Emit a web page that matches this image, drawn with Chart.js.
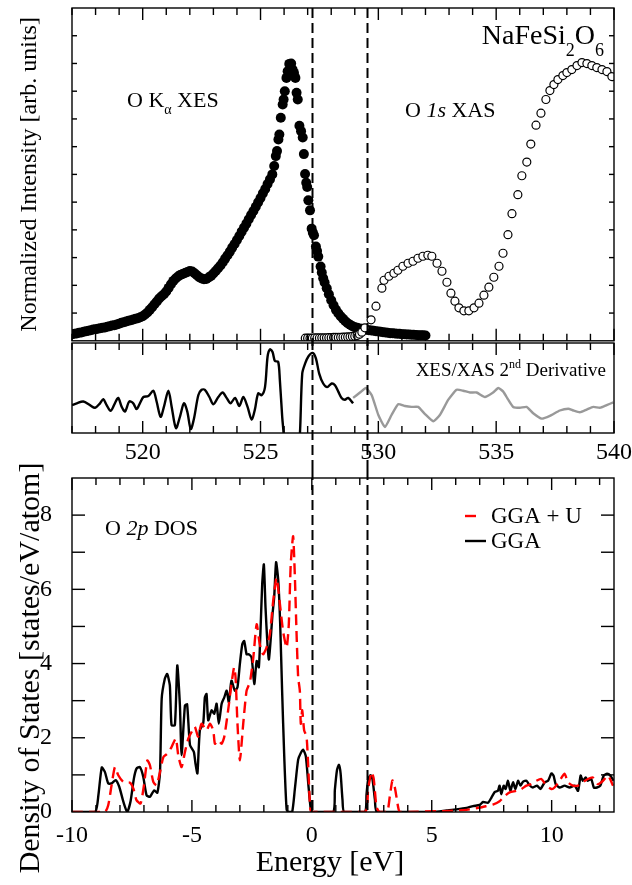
<!DOCTYPE html>
<html>
<head>
  <meta charset="UTF-8">
  <title>NaFeSi2O6 - O K XES / XAS and O 2p DOS</title>
  <script src="https://cdn.jsdelivr.net/npm/chart.js@4.4.1/dist/chart.umd.min.js"></script>
  <style>
    body { margin: 0; background: #fff; }
    #wrap { position: relative; width: 632px; height: 885px; overflow: hidden; }
    #wrap canvas { position: absolute; left: 0; }
  </style>
</head>
<body>
<div id="wrap">
  <canvas id="cTop" width="632" height="346" style="top:0px"></canvas>
  <canvas id="cMid" width="632" height="130" style="top:340px"></canvas>
  <canvas id="cDos" width="632" height="445" style="top:440px"></canvas>
</div>
<script>
// ---- data ----
// O K-alpha XES (filled circles), photon energy [eV] / intensity [arb. units, 0-100]
var xesEnergy = [517.0,517.1,517.2,517.3,517.4,517.5,517.6,517.7,517.8,517.9,
  518.0,518.1,518.2,518.3,518.4,518.5,518.6,518.7,518.8,518.9,
  519.0,519.1,519.2,519.3,519.4,519.5,519.6,519.7,519.8,519.9,
  520.0,520.1,520.2,520.3,520.4,520.5,520.6,520.7,520.8,520.9,
  521.0,521.1,521.2,521.3,521.4,521.5,521.6,521.7,521.8,521.9,
  522.0,522.1,522.2,522.3,522.4,522.5,522.6,522.7,522.8,522.9,
  523.0,523.1,523.2,523.3,523.4,523.5,523.6,523.7,523.8,523.9,
  524.0,524.1,524.2,524.3,524.4,524.5,524.6,524.7,524.8,524.9,
  525.0,525.1,525.2,525.3,525.4,525.5,525.58,525.65,525.7,525.76,
  525.8,525.86,525.94,525.98,526.03,526.1,526.15,526.22,526.3,526.36,
  526.42,526.48,526.53,526.58,526.65,526.72,526.79,526.84,526.89,526.94,
  526.98,527.03,527.1,527.17,527.22,527.27,527.35,527.4,527.45,527.55,
  527.6,527.66,527.72,527.81,527.9,528.0,528.1,528.2,528.3,528.4,
  528.5,528.6,528.7,528.8,528.9,529.0,529.1,529.2,529.3,529.4,
  529.5,529.6,529.7,529.8,529.9,530.0,530.1,530.2,530.3,530.4,
  530.5,530.6,530.7,530.8,530.9,531.0,531.1,531.2,531.3,531.4,
  531.5,531.6,531.7,531.8,531.9,532.0];
var xesIntensity = [2.0,2.1,2.2,2.4,2.5,2.7,2.9,3.0,3.2,3.4,
  3.5,3.6,3.8,3.9,4.0,4.2,4.4,4.6,4.7,4.9,
  5.1,5.4,5.6,5.8,6.0,6.2,6.4,6.6,6.8,7.1,
  7.4,7.9,8.5,9.3,10.1,11.0,11.8,12.7,13.4,14.0,
  14.8,15.9,17.0,18.0,18.7,19.3,19.8,20.1,20.4,20.7,
  21.0,20.8,20.3,19.7,19.1,18.7,18.5,18.6,19.0,19.5,
  20.2,21.0,21.8,22.6,23.6,24.7,25.7,26.8,28.0,29.1,
  30.3,31.5,32.8,34.0,35.2,36.5,37.8,39.0,40.3,41.6,
  42.9,44.3,45.6,47.1,48.5,50.0,52.5,55.5,57.0,60.5,
  62.0,67.0,71.0,72.5,75.0,79.0,81.0,83.2,83.3,81.5,
  80.5,79.0,74.5,72.5,64.6,63.0,61.1,56.1,50.1,47.5,
  46.2,42.2,39.2,33.7,32.5,31.7,28.3,27.0,25.3,22.3,
  20.5,18.8,17.5,15.8,14.0,12.2,10.7,9.3,8.3,7.4,
  6.6,5.9,5.3,4.8,4.4,4.1,3.9,3.7,3.6,3.4,
  3.3,3.2,3.1,3.0,2.9,2.8,2.7,2.6,2.5,2.4,
  2.3,2.25,2.2,2.15,2.1,2.0,2.0,1.9,1.9,1.8,
  1.8,1.75,1.7,1.7,1.65,1.6];

// O 1s XAS (open circles)
var xasEnergy = [526.9,527.0,527.1,527.2,527.3,527.4,527.5,527.6,527.7,527.8,
  527.9,528.0,528.1,528.2,528.3,528.4,528.5,528.6,528.7,528.8,
  528.9,529.0,529.1,529.2,529.3,529.43,529.69,529.9,530.15,530.24,
  530.45,530.66,530.83,531.04,531.26,531.47,531.68,531.89,532.1,532.27,
  532.49,532.7,532.91,533.08,533.25,533.42,533.63,533.84,534.06,534.27,
  534.48,534.69,534.9,535.12,535.29,535.5,535.67,535.92,536.09,536.3,
  536.47,536.69,536.9,537.11,537.28,537.45,537.62,537.83,538.0,538.21,
  538.43,538.64,538.85,539.06,539.27,539.49,539.7,539.91];
var xasIntensity = [0.8,0.8,0.8,0.8,0.85,0.85,0.85,0.9,0.9,0.9,
  0.95,0.95,1.0,1.0,1.0,1.05,1.1,1.1,1.15,1.2,
  1.3,1.4,1.6,2.0,2.6,3.9,6.3,10.4,15.8,18.2,
  19.4,20.3,21.2,22.4,23.3,23.9,24.8,25.4,25.7,25.4,
  23.3,20.9,17.6,14.3,11.9,9.9,9.0,9.0,9.9,11.3,
  13.7,16.1,19.1,22.4,26.3,31.9,38.2,43.9,49.6,53.7,
  59.1,64.8,68.4,72.5,75.2,77.0,78.5,79.7,80.6,81.5,
  82.7,83.6,83.3,82.7,82.1,81.5,80.9,79.4];

// 2nd derivative, XES part (black) and XAS part (grey), arb. units 0-100
var derXesEnergy = [517.0,517.2,517.48,517.76,517.98,518.19,518.33,518.47,518.64,518.82,
  518.96,519.11,519.25,519.43,519.6,519.74,519.88,520.03,520.24,520.45,
  520.59,520.76,520.9,521.09,521.23,521.41,521.58,521.75,521.89,522.04,
  522.18,522.36,522.5,522.64,522.83,523.0,523.21,523.39,523.56,523.73,
  523.92,524.1,524.27,524.45,524.62,524.76,524.9,525.05,525.19,525.3,
  525.4,525.51,525.61,525.75,525.82,525.92,525.99,526.1,526.5,526.67,
  526.77,526.89,527.03,527.21,527.35,527.49,527.66,527.83,528.02,528.16,
  528.3,528.44,528.58,528.72,528.93];
var derXesValue = [31,33,35,31,28,33,37.5,31,24.6,33,
  39,29,24,35,33,26.5,33,40,41,47,
  35,18,29,47,29,5.5,18,33,24,4.4,
  16.5,42,48,48,40,32,40,45,39,33,
  39,30,40,29,15,26,44,42,51,85,
  93,90,80,79,59,18,-4,-60,-60,-2,
  66,77,85,89,83,66,55,51,55,53,
  46,39,37,39,33];
var derXasEnergy = [528.93,529.22,529.47,529.72,530.0,530.28,530.56,530.84,531.13,531.41,
  531.69,531.98,532.33,532.61,532.97,533.32,533.6,533.89,534.17,534.52,
  534.87,535.09,535.3,535.51,535.72,536.01,536.29,536.57,536.93,537.28,
  537.7,538.06,538.27,538.55,538.84,539.12,539.4,539.69,539.97];
var derXasValue = [39,45,50,42,20,6.6,20,32,30,29,
  29,21,13,20,37,48,47,45,45,40,
  45,50,46,37,29,28,29,22,16,19,
  25,27,25,23,26,29,28,31,34];

// O 2p DOS [states/eV/atom] vs energy [eV]
var ggaEnergy = [-10,-9.04,-8.9,-8.76,-8.63,-8.49,-8.35,-8.18,-8.03,-7.86,
  -7.7,-7.56,-7.42,-7.31,-7.17,-7.03,-6.89,-6.75,-6.58,-6.44,
  -6.33,-6.26,-6.13,-6.03,-5.92,-5.85,-5.71,-5.61,-5.5,-5.43,
  -5.29,-5.2,-5.08,-4.92,-4.85,-4.77,-4.67,-4.53,-4.46,-4.39,
  -4.32,-4.18,-4.07,-3.97,-3.88,-3.76,-3.65,-3.55,-3.46,-3.35,
  -3.21,-3.1,-3.0,-2.9,-2.82,-2.72,-2.63,-2.51,-2.4,-2.3,
  -2.21,-2.14,-2.07,-2.0,-1.93,-1.85,-1.79,-1.71,-1.64,-1.57,
  -1.49,-1.4,-1.32,-1.24,-1.15,-1.05,-0.96,-0.82,-0.71,-0.57,
  -0.46,-0.36,-0.25,-0.15,-0.04,0.05,0.89,0.96,1.05,1.13,
  1.2,1.28,1.35,2.21,2.28,2.35,2.45,2.53,2.63,2.72,
  5.06,5.61,6.03,6.45,6.72,7.0,7.14,7.35,7.49,7.63,
  7.76,7.83,7.9,8.0,8.08,8.18,8.28,8.39,8.49,8.6,
  8.7,8.81,8.95,9.08,9.22,9.39,9.53,9.71,9.85,9.99,
  10.08,10.17,10.33,10.54,10.75,10.96,11.1,11.21,11.3,11.42,
  11.51,11.65,11.76,11.89,12.03,12.17,12.31,12.45,12.58];
var ggaDos = [0,0,0.45,1.2,1.08,0.77,0.77,0.86,0.68,0.28,
  0,0.28,0.9,1.17,1.21,0.95,0.45,0.41,0.58,0.52,
  1.08,3.05,3.59,3.72,3.41,2.34,2.34,3.95,2.87,1.53,
  2.87,2.9,1.8,1.62,1.3,1.04,2.2,2.38,3.09,3.18,
  2.47,2.74,2.65,2.92,2.38,2.92,3.09,3.27,2.96,3.54,
  3.27,3.36,3.99,4.52,4.61,4.25,4.25,4.16,3.45,4.07,
  3.9,4.88,6.13,6.67,5.5,4.52,4.11,4.7,5.33,5.78,
  6.73,6.24,5.08,3.29,1.5,0.06,0,0,0.6,1.41,
  1.59,1.68,1.5,0.78,0.06,0,0,0.59,1.13,1.27,
  1.04,0.32,0,0,0.47,0.88,0.99,0.88,0.34,0,
  0,0.04,0.07,0.11,0.16,0.19,0.27,0.25,0.39,0.54,
  0.57,0.71,0.48,0.71,0.62,0.84,0.57,0.8,0.62,0.84,
  0.71,0.82,0.84,0.72,0.66,0.71,0.62,0.8,0.84,1.04,
  0.98,0.75,0.66,0.71,0.66,0.71,0.57,0.98,0.84,0.93,
  0.84,0.89,0.66,0.66,0.71,0.98,1.03,0.98,0.84];
var gguEnergy = [-10,-8.63,-8.49,-8.35,-8.21,-8.07,-7.86,-7.58,-7.44,-7.31,
  -7.14,-7.0,-6.86,-6.75,-6.61,-6.47,-6.33,-6.19,-6.03,-5.85,
  -5.67,-5.57,-5.43,-5.29,-5.15,-5.01,-4.88,-4.74,-4.6,-4.39,
  -4.25,-4.11,-4.04,-3.9,-3.76,-3.65,-3.49,-3.35,-3.24,-3.18,
  -3.1,-3.0,-2.86,-2.72,-2.58,-2.44,-2.3,-2.17,-2.03,-1.89,
  -1.75,-1.61,-1.47,-1.33,-1.2,-1.05,-0.96,-0.88,-0.78,-0.71,
  -0.64,-0.57,-0.5,-0.46,-0.4,-0.32,-0.22,-0.15,-0.08,-0.01,
  2.21,2.35,2.49,2.58,2.7,2.83,3.14,3.25,3.36,3.46,
  3.6,3.67,5.75,6.3,6.58,7.0,7.28,7.55,7.83,8.04,
  8.25,8.53,8.74,8.95,9.15,9.36,9.57,9.78,9.99,10.12,
  10.33,10.54,10.68,10.89,11.1,11.3,11.51,11.72,11.93,12.14,
  12.35,12.56];
var gguDos = [0,0,0.18,0.72,1.21,0.99,0.81,0.79,0.63,0.32,
  0.23,0.72,1.39,1.26,0.81,0.72,1.08,1.48,1.57,1.75,
  1.98,1.53,1.21,1.62,1.98,2.16,2.3,2.03,2.38,2.2,
  2.38,2.2,1.84,1.93,1.84,2.03,2.74,3.45,3.9,3.63,
  2.38,1.39,2.38,3.27,3.5,4.16,5.06,4.52,4.25,4.43,
  4.79,5.69,6.31,5.6,4.88,4.43,5.06,6.67,7.43,6.4,
  4.88,3.63,3.27,2.38,2.74,2.2,2.03,1.23,0.24,0,
  0,0.63,1.08,0.9,0.13,0,0,0.41,0.85,0.67,
  0.13,0,0.03,0.05,0.07,0.12,0.16,0.2,0.29,0.43,
  0.53,0.57,0.62,0.71,0.75,0.84,0.89,0.71,0.62,0.66,
  0.84,1.03,0.8,0.71,0.71,0.8,0.89,0.93,0.75,0.84,
  0.98,0.71];

// tick labels
var emissionTicks = [520, 525, 530, 535, 540];
var dosEnergyTicks = [-10, -5, 0, 5, 10];
var dosTicks = [0, 2, 4, 6, 8];

// dashed guide lines: emission-scale energies and the same two energies on the DOS scale
var guideXes = [527.2, 529.5];
var guideDos = [0, 2.3];

var SERIF = "'Liberation Serif', 'DejaVu Serif', 'Times New Roman', serif";

function pts(xs, ys) {
  return xs.map(function (v, i) { return { x: v, y: ys[i] }; });
}

function fontOf(p) {
  return (p.it ? 'italic ' : '') + p.s + 'px ' + SERIF;
}

// draws a run of text pieces (for sub/superscripts and italics)
function drawRich(ctx, x, y, parts, align) {
  var w = 0;
  parts.forEach(function (p) { ctx.font = fontOf(p); w += ctx.measureText(p.t).width; });
  var cx = align === 'right' ? x - w : (align === 'center' ? x - w / 2 : x);
  parts.forEach(function (p) {
    ctx.font = fontOf(p);
    ctx.fillText(p.t, cx, y + (p.dy || 0));
    cx += ctx.measureText(p.t).width;
  });
}

// box round the plot and the inward pointing ticks
var framePlugin = {
  id: 'frame',
  afterDatasetsDraw: function (chart, args, o) {
    var ctx = chart.ctx, a = chart.chartArea, x = chart.scales.x, y = chart.scales.y;
    ctx.save();
    ctx.strokeStyle = '#000';
    ctx.lineWidth = 1.4;
    ctx.strokeRect(a.left, a.top, a.right - a.left, a.bottom - a.top);
    function seg(x1, y1, x2, y2) { ctx.beginPath(); ctx.moveTo(x1, y1); ctx.lineTo(x2, y2); ctx.stroke(); }
    var v;
    for (v = Math.ceil(x.min); v <= x.max + 1e-9; v += 1) {
      var px = x.getPixelForValue(v);
      var len = (v % 5 === 0) ? 12 : 7;
      if (o.top) seg(px, a.top, px, a.top + len);
      if (o.bottom) seg(px, a.bottom, px, a.bottom - len);
    }
    if (o.yStep) {
      for (v = y.min + o.yStep; v < y.max - 1e-6; v += o.yStep) {
        var py = y.getPixelForValue(v);
        seg(a.left, py, a.left + o.yLen, py);
        seg(a.right, py, a.right - o.yLen, py);
      }
    }
    ctx.restore();
  }
};

// the two vertical dashed lines
var guidePlugin = {
  id: 'guides',
  afterDatasetsDraw: function (chart, args, o) {
    var ctx = chart.ctx, a = chart.chartArea, x = chart.scales.x;
    var y0 = (o.y0 !== undefined) ? o.y0 : a.top;
    var y1 = o.toCanvas ? chart.height : a.bottom;
    ctx.save();
    ctx.strokeStyle = '#000';
    ctx.lineWidth = 2;
    ctx.setLineDash([10, 5]);
    o.values.forEach(function (v) {
      var px = Math.round(x.getPixelForValue(v)) + 0.5;
      ctx.beginPath(); ctx.moveTo(px, y0); ctx.lineTo(px, y1); ctx.stroke();
    });
    ctx.restore();
  }
};

// free text inside the panels, the DOS legend and the axis titles of the DOS panel
var notePlugin = {
  id: 'notes',
  afterDraw: function (chart, args, o) {
    var ctx = chart.ctx;
    ctx.save();
    ctx.fillStyle = '#000';
    ctx.textBaseline = 'alphabetic';
    (o.items || []).forEach(function (it) { drawRich(ctx, it.x, it.y, it.parts, it.align); });
    if (o.legend) {
      var L = o.legend;
      L.rows.forEach(function (r, i) {
        var ds = chart.data.datasets[r.ds];
        var yy = L.y + i * L.dy;
        ctx.save();
        ctx.strokeStyle = ds.borderColor;
        ctx.lineWidth = ds.borderWidth;
        ctx.beginPath(); ctx.moveTo(L.x, yy); ctx.lineTo(L.x + r.len, yy); ctx.stroke();
        ctx.restore();
        ctx.font = L.size + 'px ' + SERIF;
        ctx.textBaseline = 'middle';
        ctx.fillText(ds.label, L.textX, yy + 1);
      });
    }
    if (o.vtitle) {
      var t = o.vtitle;
      ctx.save();
      ctx.translate(t.x, t.y);
      ctx.rotate(-Math.PI / 2);
      ctx.font = t.size + 'px ' + SERIF;
      ctx.textAlign = 'center';
      ctx.textBaseline = 'middle';
      ctx.fillText(t.text, 0, 0);
      ctx.restore();
    }
    ctx.restore();
  }
};

function fixedTicks(values) {
  return function (s) {
    s.ticks = values.map(function (v) { return { value: v }; });
  };
}

var tickFont = { family: SERIF, size: 24 };

// ---------- top panel: XES and XAS ----------
new Chart(document.getElementById('cTop'), {
  type: 'scatter',
  data: {
    datasets: [
      { label: 'O 1s XAS', data: pts(xasEnergy, xasIntensity), order: 0,
        pointRadius: 4, pointBackgroundColor: '#fff', pointBorderColor: '#000', pointBorderWidth: 1.2 },
      { label: 'O Ka XES', data: pts(xesEnergy, xesIntensity), order: 1,
        pointRadius: 5, pointBackgroundColor: '#000', pointBorderWidth: 0 }
    ]
  },
  options: {
    responsive: false, animation: false, events: [],
    layout: { padding: { top: 8, right: 18, bottom: 3, left: 0 } },
    scales: {
      x: { type: 'linear', min: 517, max: 540, display: false },
      y: { min: 0, max: 100, grid: { display: false }, border: { display: false },
           ticks: { display: false },
           title: { display: true, text: 'Normalized Intensity [arb. units]', color: '#000',
                    font: { family: SERIF, size: 24 }, padding: { top: 15, bottom: 0 } },
           afterFit: function (s) { s.width = 72; } }
    },
    plugins: {
      legend: { display: false }, tooltip: { enabled: false },
      frame: { top: true, bottom: true, yStep: 100 / 12, yLen: 5 },
      guides: { values: guideXes, toCanvas: true },
      notes: { items: [
        { x: 127, y: 107, parts: [{ t: 'O K', s: 22 }, { t: '\u03b1', s: 14, dy: 7 }, { t: ' XES', s: 22 }] },
        { x: 405, y: 117, parts: [{ t: 'O ', s: 22 }, { t: '1s', s: 22, it: true }, { t: ' XAS', s: 22 }] },
        { x: 604, y: 44, align: 'right', parts: [{ t: 'NaFeSi', s: 28 }, { t: '2', s: 18, dy: 12 }, { t: 'O', s: 28 }, { t: '6', s: 18, dy: 12 }] }
      ] }
    }
  },
  plugins: [framePlugin, guidePlugin, notePlugin]
});

// ---------- middle panel: 2nd derivative ----------
new Chart(document.getElementById('cMid'), {
  type: 'scatter',
  data: {
    datasets: [
      { label: 'XES 2nd derivative', data: pts(derXesEnergy, derXesValue), showLine: true,
        borderColor: '#000', borderWidth: 2.4, pointRadius: 0, tension: 0.3 },
      { label: 'XAS 2nd derivative', data: pts(derXasEnergy, derXasValue), showLine: true,
        borderColor: '#999', borderWidth: 2.4, pointRadius: 0, tension: 0.15 }
    ]
  },
  options: {
    responsive: false, animation: false, events: [],
    layout: { padding: { top: 3, right: 18, bottom: 0, left: 72 } },
    scales: {
      x: { type: 'linear', min: 517, max: 540, grid: { display: false }, border: { display: false },
           ticks: { color: '#000', font: tickFont, padding: -3, maxRotation: 0, autoSkip: false },
           afterBuildTicks: fixedTicks(emissionTicks),
           afterFit: function (s) { s.height = 37; } },
      y: { min: 0, max: 100, display: false }
    },
    plugins: {
      legend: { display: false }, tooltip: { enabled: false },
      frame: { top: true, bottom: true },
      guides: { values: guideXes, y0: 0, toCanvas: true },
      notes: { items: [
        { x: 606, y: 36, align: 'right', parts: [{ t: 'XES/XAS 2', s: 19 }, { t: 'nd', s: 12, dy: -8 }, { t: ' Derivative', s: 19 }] }
      ] }
    }
  },
  plugins: [framePlugin, guidePlugin, notePlugin]
});

// ---------- bottom panel: O 2p DOS ----------
new Chart(document.getElementById('cDos'), {
  type: 'scatter',
  data: {
    datasets: [
      { label: 'GGA + U', data: pts(gguEnergy, gguDos), showLine: true, order: 0,
        borderColor: '#ff0000', borderWidth: 2.4, borderDash: [11, 6], pointRadius: 0, tension: 0.2 },
      { label: 'GGA', data: pts(ggaEnergy, ggaDos), showLine: true, order: 1,
        borderColor: '#000', borderWidth: 2.4, pointRadius: 0, tension: 0.2 }
    ]
  },
  options: {
    responsive: false, animation: false, events: [],
    layout: { padding: { top: 38, right: 18, bottom: 0, left: 0 } },
    scales: {
      x: { type: 'linear', min: -10, max: 12.6, grid: { display: false }, border: { display: false },
           ticks: { color: '#000', font: tickFont, padding: 1, maxRotation: 0, autoSkip: false },
           afterBuildTicks: fixedTicks(dosEnergyTicks),
           afterFit: function (s) { s.height = 73; } },
      y: { min: 0, max: 9, grid: { display: false }, border: { display: false },
           ticks: { color: '#000', font: tickFont, padding: 12, autoSkip: false },
           afterBuildTicks: fixedTicks(dosTicks),
           afterFit: function (s) { s.width = 72; } }
    },
    plugins: {
      legend: { display: false }, tooltip: { enabled: false },
      frame: { top: true, bottom: true, yStep: 1, yLen: 13 },
      guides: { values: guideDos, y0: 30, toCanvas: false },
      notes: {
        items: [
          { x: 105, y: 95, parts: [{ t: 'O ', s: 22 }, { t: '2p', s: 22, it: true }, { t: ' DOS', s: 22 }] },
          { x: 330, y: 431, align: 'center', parts: [{ t: 'Energy [eV]', s: 30 }] }
        ],
        legend: { x: 465, textX: 491, y: 76, dy: 25, size: 23, rows: [{ ds: 0, len: 11 }, { ds: 1, len: 21 }] },
        vtitle: { x: 31, y: 228, size: 30, text: 'Density of States [states/eV/atom]' }
      }
    }
  },
  plugins: [framePlugin, guidePlugin, notePlugin]
});
</script>
</body>
</html>
